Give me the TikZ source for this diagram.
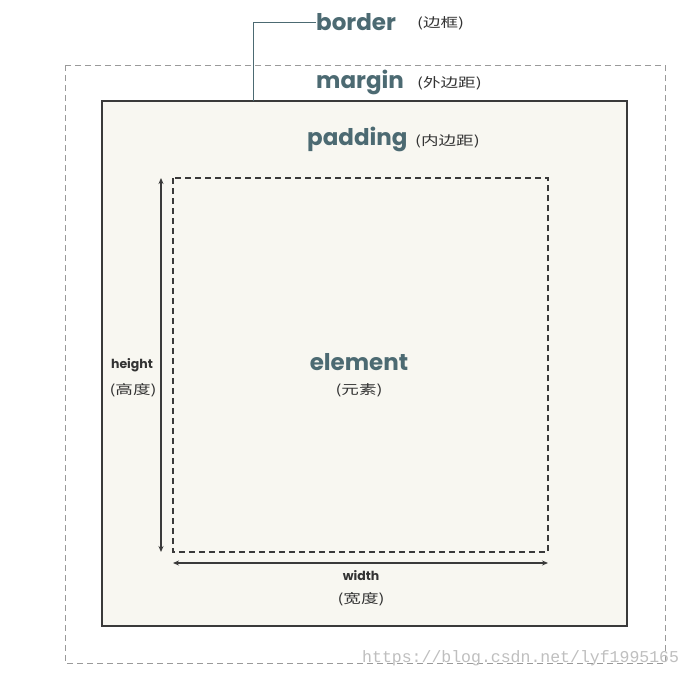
\documentclass[tikz,border=0pt]{standalone}
\usepackage{fontspec}
\usetikzlibrary{arrows.meta}
\setmainfont{Poppins}
\newfontfamily\cjk[FakeStretch=1.35]{Noto Sans CJK SC}
\newfontfamily\wmfont{Liberation Mono}
\definecolor{lbl}{HTML}{4C6A72}
\definecolor{paper}{HTML}{F8F7F1}
\definecolor{dashg}{HTML}{9A9A9A}
\definecolor{edge}{HTML}{3A3A3A}
\begin{document}
\begin{tikzpicture}[x=1pt,y=-1pt,
  big/.style={font=\fontsize{23}{25}\selectfont\bfseries, text=lbl, inner sep=0pt},
  zh/.style={font=\cjk\fontsize{13}{15}\selectfont, text=black!80, inner sep=0pt},
  small/.style={font=\fontsize{12.5}{14}\selectfont\bfseries, text=black!80, inner sep=0pt},
  dimarrow/.style={draw=edge, line width=1.3pt, {Stealth[length=6pt,width=5pt]}-{Stealth[length=6pt,width=5pt]}}]
\useasboundingbox (0,0) rectangle (693,678);
\fill[white] (0,0) rectangle (693,678);
% margin
\draw[dashg, line width=1pt, dash pattern=on 6pt off 4pt] (65,65) rectangle (665,663);
% border box
\draw[edge, fill=paper, line width=1.3pt] (102,101) rectangle (627,626);
\coordinate (bordertop) at (253,101);
% element
\draw[edge, line width=1.1pt, dash pattern=on 6pt off 4pt] (173,178) rectangle (548,552);
% labels
\node[big, anchor=west] (border) at (316,22) {border};
\node[zh, anchor=west] at (417,23) {(边框)};
\draw[lbl, line width=1pt] (bordertop) |- (border.west);
\node[big, anchor=west] (margin) at (316,82) {margin};
\node[zh, anchor=west] at (417,83) {(外边距)};
\node[big, anchor=west] (padding) at (307,139) {padding};
\node[zh, anchor=west] at (415,141) {(内边距)};
\node[big] (element) at (359,362) {element};
\node[zh] at (359,390) {(元素)};
% dimension arrows
\coordinate (ht) at (161,178);
\coordinate (hb) at (161,552);
\draw[dimarrow] (ht) -- (hb);
\node[small] (height) at (132,365) {height};
\node[zh] at (133,390) {(高度)};
\coordinate (wl) at (173,563);
\coordinate (wr) at (548,563);
\draw[dimarrow] (wl) -- (wr);
\node[small] (width) at (361,576) {width};
\node[zh] at (361,599) {(宽度)};
% watermark
\node[font=\wmfont\fontsize{16.5}{18}\selectfont, text=black!25, anchor=west, inner sep=0pt] at (362,658) {https://blog.csdn.net/lyf1995165};
\end{tikzpicture}
\end{document}
